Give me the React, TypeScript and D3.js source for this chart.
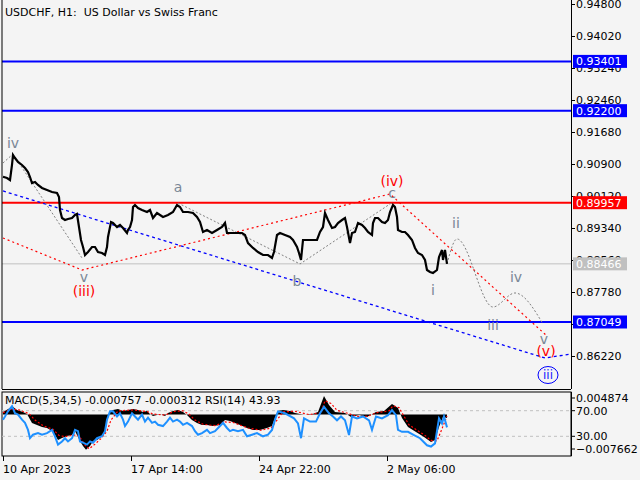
import { useEffect, useRef } from "react";
import * as d3 from "d3";

// H1 bar index (0 = 10 Apr 06:00) and close
const barIdx = [0, 4, 7, 9, 10, 12, 15, 19, 22, 25, 27, 29, 32, 35, 39, 44, 49, 54, 56, 57, 59, 62, 65, 69, 72, 74, 76, 78, 80, 82, 85, 89, 92, 95, 99, 102, 104, 105, 108, 110, 114, 117, 120, 124, 125, 127, 129, 130, 132, 135, 139, 144, 147, 150, 154, 160, 165, 170, 174, 177, 180, 185, 190, 194, 197, 200, 204, 209, 214, 219, 222, 224, 229, 234, 239, 242, 245, 250, 255, 260, 265, 269, 271, 274, 277, 282, 287, 290, 294, 296, 298, 300, 304, 309, 314, 317, 320, 322, 325, 329, 332, 335, 339, 342, 344, 347, 349, 352, 355, 359, 362, 365, 369, 370, 372, 375, 379, 382, 385, 387, 390, 392, 394, 395, 399, 402, 405, 409, 412, 415, 419, 422, 424, 427, 430, 434, 436, 439, 440, 442, 444];
const closes = [0.9059, 0.90559, 0.9051, 0.90876, 0.91119, 0.91046, 0.90949, 0.90876, 0.90802, 0.90705, 0.90583, 0.90437, 0.90461, 0.90388, 0.90315, 0.90266, 0.90218, 0.90193, 0.90096, 0.89779, 0.89584, 0.89535, 0.89559, 0.89584, 0.89657, 0.89681, 0.89364, 0.89048, 0.88877, 0.88682, 0.88755, 0.88877, 0.88877, 0.88755, 0.88731, 0.88682, 0.88877, 0.89121, 0.89486, 0.89462, 0.89364, 0.89413, 0.8934, 0.89218, 0.89291, 0.89364, 0.89535, 0.89852, 0.89901, 0.89828, 0.89779, 0.8973, 0.89779, 0.89584, 0.89706, 0.89608, 0.89657, 0.8973, 0.89901, 0.89852, 0.8973, 0.8973, 0.89706, 0.89608, 0.89486, 0.89243, 0.89291, 0.89218, 0.89291, 0.89364, 0.89462, 0.89218, 0.89218, 0.89218, 0.89218, 0.89169, 0.88974, 0.88853, 0.88755, 0.88682, 0.88682, 0.88609, 0.88755, 0.89169, 0.89218, 0.89169, 0.89121, 0.89048, 0.88877, 0.88731, 0.8856, 0.89048, 0.89048, 0.89048, 0.89048, 0.89243, 0.89364, 0.89706, 0.89535, 0.8934, 0.89364, 0.89462, 0.89535, 0.89584, 0.89364, 0.88974, 0.89218, 0.89243, 0.89462, 0.89413, 0.8934, 0.89243, 0.89169, 0.89462, 0.89584, 0.89584, 0.89486, 0.89462, 0.89535, 0.8973, 0.89901, 0.89852, 0.89608, 0.89291, 0.89243, 0.89243, 0.89169, 0.89048, 0.88853, 0.88731, 0.88682, 0.8856, 0.88316, 0.88268, 0.88243, 0.88316, 0.88633, 0.88804, 0.8856, 0.88804, 0.88466];

const priceTicks = [0.948, 0.9402, 0.9324, 0.9246, 0.9168, 0.909, 0.9012, 0.8934, 0.8856, 0.8778, 0.87, 0.8622];
const blueLevels = [0.93401, 0.922, 0.87049];
const redLevels = [0.89957];
const lastPrice = 0.88466;

const timeTicks = [0, 128, 256, 384];
const timeLabels = ["10 Apr 2023", "17 Apr 14:00", "24 Apr 22:00", "2 May 06:00"];

// wave markup
const minorPaths = [
  [[0, 0.90924], [10, 0.91144], [79, 0.88609]],
  [[175, 0.89949], [297, 0.88463], [390, 0.89974]],
];
const minorProjection = [[444, 0.88466], [454, 0.89072], [490, 0.87414], [512, 0.87756], [540, 0.87]];
const intermediatePath = [[0, 0.89096], [79, 0.88316], [387, 0.90169], [544, 0.86708]];
const primaryPath = [[0, 0.90242], [542, 0.86171], [568, 0.86269]];

const minorLabels: [string, number, number][] = [
  ["iv", 10, 0.9129], ["v", 81, 0.88024], ["a", 175, 0.90218], ["b", 294, 0.87926],
  ["c", 389, 0.90071], ["i", 430, 0.87707], ["ii", 453, 0.89348], ["iii", 490, 0.86854],
  ["iv", 513, 0.88024], ["v", 541, 0.86513],
];
const intermediateLabels: [string, number, number][] = [
  ["(iii)", 81, 0.87683], ["(iv)", 389, 0.90364], ["(v)", 543, 0.8622],
];
const primaryLabels: [string, number, number][] = [["iii", 545, 0.85659]];

// MACD(5,34,5) main
const macdIdx = [0, 7, 9, 14, 20, 24, 29, 34, 39, 44, 49, 52, 55, 59, 64, 69, 72, 77, 80, 83, 87, 90, 94, 97, 102, 104, 107, 110, 115, 120, 125, 130, 135, 140, 144, 147, 150, 154, 157, 162, 165, 170, 175, 180, 184, 189, 194, 199, 204, 210, 217, 222, 227, 232, 237, 244, 250, 257, 264, 269, 272, 275, 280, 287, 292, 297, 307, 315, 321, 326, 332, 342, 348, 356, 364, 373, 381, 389, 395, 399, 405, 413, 421, 428, 432, 436, 440, 444];
const macdVals = [0.00056, 0.00143, 0.00186, 0.00099, 0.00056, 0.00013, -0.00182, -0.00225, -0.00268, -0.0029, -0.00354, -0.00441, -0.00549, -0.00506, -0.00463, -0.00441, -0.00354, -0.00571, -0.00679, -0.0076, -0.00679, -0.00571, -0.00549, -0.00506, -0.00398, -0.00138, 0.00056, 0.00099, 0.00121, 0.00078, 0.00099, 0.00121, 0.00099, 0.00056, 0.00078, 0.00013, -0.0003, -0.00009, 0.00013, -0.0003, 0.00035, 0.00078, 0.00099, 0.00056, -0.00009, -0.00117, -0.00182, -0.00225, -0.00225, -0.00246, -0.00225, -0.00117, -0.00138, -0.00182, -0.00225, -0.0029, -0.00333, -0.00333, -0.0029, -0.00246, -0.00073, 0.00078, 0.00099, 0.00078, 0.00035, 0.00013, -0.00009, 0.00056, 0.004, 0.00207, 0.00056, 0.00035, -0.00052, -0.00009, -0.00052, 0.00056, 0.00078, 0.00229, 0.00143, -0.00073, -0.00268, -0.00376, -0.00484, -0.00592, -0.00549, -0.00268, -0.00052, -0.000757];
// signal line
const signalIdx = [0, 8, 16, 26, 32, 40, 50, 56, 62, 70, 76, 82, 86, 92, 98, 104, 108, 115, 130, 145, 150, 162, 172, 180, 186, 192, 200, 212, 222, 230, 245, 258, 268, 274, 280, 292, 306, 318, 322, 328, 334, 346, 354, 364, 374, 386, 390, 396, 400, 406, 414, 422, 428, 434, 438, 444];
const signalVals = [0.0004, 0.0012, 0.001, 0.0002, -0.0012, -0.0024, -0.0032, -0.0045, -0.0048, -0.0044, -0.0046, -0.0066, -0.0074, -0.0064, -0.0052, -0.0036, -0.0012, 0.0008, 0.001, 0.0006, 0.0001, -0.0001, 0.0007, 0.0008, 0.0001, -0.0012, -0.0021, -0.0024, -0.0016, -0.0017, -0.0029, -0.0034, -0.0029, -0.0012, 0.0006, 0.0007, 0.0, 0.0004, 0.003, 0.0024, 0.0009, 0.0002, -0.0004, -0.0004, 0.0004, 0.0008, 0.0019, 0.0015, 0.0, -0.0022, -0.0034, -0.0045, -0.0056, -0.0057, -0.0036, -0.000312];
// RSI(14)
const rsiIdx = [0, 2, 5, 9, 12, 15, 19, 22, 25, 27, 30, 35, 39, 44, 49, 52, 55, 59, 62, 65, 69, 72, 75, 77, 80, 84, 87, 90, 94, 99, 102, 104, 107, 110, 114, 117, 120, 122, 125, 129, 132, 135, 139, 142, 145, 149, 152, 155, 160, 164, 167, 170, 174, 177, 180, 184, 189, 192, 195, 199, 204, 207, 212, 217, 220, 224, 227, 230, 235, 240, 244, 249, 254, 260, 265, 269, 272, 275, 282, 291, 295, 298, 301, 307, 313, 317, 321, 326, 330, 334, 338, 342, 346, 349, 354, 360, 366, 369, 373, 379, 385, 389, 393, 395, 399, 405, 411, 417, 424, 428, 432, 436, 439, 441, 444];
const rsiVals = [56, 61, 69, 77, 66, 64, 56, 51, 40, 27, 32.5, 35, 32.5, 35, 40, 30, 17, 22, 27, 22, 27, 40, 38, 22, 20, 17, 22, 20, 27, 30, 38, 56, 69, 69, 61, 66, 56, 46, 53, 66, 61, 56, 64, 53, 59, 51, 53, 48, 46, 53, 59, 53, 56, 53, 48, 51, 46, 38, 32.5, 35, 40, 35, 38, 46, 51, 43, 38, 40, 38, 40, 30, 32.5, 35, 30, 32.5, 40, 56, 69, 66, 58, 50, 27, 58, 53, 53, 66, 76, 66, 61, 55, 61, 55, 32, 61, 58, 61, 55, 40, 61, 58, 63, 71, 63, 40, 37, 37, 32, 27, 16, 14, 19, 58, 50, 61, 43.93];
const rsiLevels = [70, 30];
const macdMax = 0.004874;
const macdMin = -0.007662;

const FONT = "DejaVu Sans, sans-serif";

export default function App() {
  const ref = useRef<SVGSVGElement>(null);

  useEffect(() => {
    const svg = d3.select(ref.current);
    svg.selectAll("*").remove();

    const plotL = 2, plotR = 571;
    const mainBottom = 389;
    const subTop = 392, subBottom = 456;

    const x = d3.scaleLinear().domain([0, 568]).range([3, 571]);
    const y = d3.scaleLinear().domain([0.8622, 0.948]).range([356, 4]);
    const mY = d3.scaleLinear().domain([macdMin, macdMax]).range([450, 392]);
    const rY = d3.scaleLinear().domain([0, 100]).range([455.5, 391.5]);

    svg.append("rect").attr("width", 640).attr("height", 480).attr("fill", "#f4f4f4");

    const clip = svg.append("defs").append("clipPath").attr("id", "mainclip");
    clip.append("rect").attr("x", plotL).attr("y", 0).attr("width", plotR - plotL).attr("height", mainBottom);
    const main = svg.append("g").attr("clip-path", "url(#mainclip)");

    // horizontal levels
    main.append("line")
      .attr("x1", plotL).attr("x2", plotR)
      .attr("y1", y(lastPrice)).attr("y2", y(lastPrice))
      .attr("stroke", "#c0c0c0").attr("stroke-width", 1);
    main.selectAll(".blvl").data(blueLevels).enter().append("line")
      .attr("x1", plotL).attr("x2", plotR)
      .attr("y1", (d) => y(d)).attr("y2", (d) => y(d))
      .attr("stroke", "#0000ff").attr("stroke-width", 2);
    main.selectAll(".rlvl").data(redLevels).enter().append("line")
      .attr("x1", plotL).attr("x2", plotR)
      .attr("y1", (d) => y(d)).attr("y2", (d) => y(d))
      .attr("stroke", "#ff0000").attr("stroke-width", 2);

    const line = d3.line<number[]>().x((d) => x(d[0])).y((d) => y(d[1]));

    // wave markup lines
    main.append("path").attr("d", line(primaryPath))
      .attr("fill", "none").attr("stroke", "#0000ff").attr("stroke-width", 1.3).attr("stroke-dasharray", "3,3");
    main.append("path").attr("d", line(intermediatePath))
      .attr("fill", "none").attr("stroke", "#ff0000").attr("stroke-width", 1.2).attr("stroke-dasharray", "2,3");
    minorPaths.forEach((p) => {
      main.append("path").attr("d", line(p))
        .attr("fill", "none").attr("stroke", "#808080").attr("stroke-width", 1).attr("stroke-dasharray", "2,2");
    });
    main.append("path").attr("d", line.curve(d3.curveMonotoneX)(minorProjection))
      .attr("fill", "none").attr("stroke", "#808080").attr("stroke-width", 1).attr("stroke-dasharray", "2,2");
    line.curve(d3.curveLinear);

    // price
    const pts = barIdx.map((b, i) => [b, closes[i]]);
    main.append("path").attr("d", line(pts))
      .attr("fill", "none").attr("stroke", "#000").attr("stroke-width", 2.2).attr("stroke-linejoin", "miter");

    // labels
    const lbl = (data: [string, number, number][], color: string) => {
      main.selectAll(null).data(data).enter().append("text")
        .attr("x", (d) => x(d[1])).attr("y", (d) => y(d[2]))
        .attr("text-anchor", "middle").attr("font-family", FONT).attr("font-size", 14)
        .attr("fill", color).text((d) => d[0]);
    };
    lbl(minorLabels, "#7a8796");
    lbl(intermediateLabels, "#ff0000");
    primaryLabels.forEach((d) => {
      main.append("ellipse").attr("cx", x(d[1])).attr("cy", y(d[2]) - 4)
        .attr("rx", 10).attr("ry", 8.5).attr("fill", "none").attr("stroke", "#0000ff").attr("stroke-width", 1);
      main.append("text").attr("x", x(d[1])).attr("y", y(d[2]))
        .attr("text-anchor", "middle").attr("font-family", FONT).attr("font-size", 12)
        .attr("fill", "#2020ff").text(d[0]);
    });

    // title
    svg.append("text").attr("x", 5).attr("y", 16).attr("font-family", FONT).attr("font-size", 11)
      .style("white-space", "pre").attr("fill", "#000").text("USDCHF, H1:  US Dollar vs Swiss Franc");

    // frames
    svg.append("line").attr("x1", plotL).attr("x2", plotL).attr("y1", 0).attr("y2", mainBottom).attr("stroke", "#000");
    svg.append("line").attr("x1", plotL).attr("x2", plotR).attr("y1", mainBottom + 0.5).attr("y2", mainBottom + 0.5).attr("stroke", "#000");
    svg.append("rect").attr("x", plotL).attr("y", subTop).attr("width", plotR - plotL).attr("height", subBottom - subTop)
      .attr("fill", "none").attr("stroke", "#000");

    // price axis
    const pAxis = svg.append("g").attr("transform", `translate(${plotR},0)`)
      .call(d3.axisRight(y).tickValues(priceTicks).tickFormat(d3.format(".5f")).tickSize(4).tickPadding(1));
    pAxis.select(".domain").attr("d", `M0.5,0V${mainBottom}`).attr("stroke", "#000");
    pAxis.selectAll("text").attr("font-family", FONT).attr("font-size", 11).attr("fill", "#000");

    // price boxes
    const boxes = [
      ...blueLevels.map((v) => ({ v, c: "#0000ff" })),
      ...redLevels.map((v) => ({ v, c: "#ff0000" })),
      { v: lastPrice, c: "#c0c0c0" },
    ];
    const bx = svg.append("g");
    boxes.forEach((b) => {
      bx.append("rect").attr("x", 573).attr("y", y(b.v) - 6.5).attr("width", 54).attr("height", 13).attr("fill", b.c);
      bx.append("text").attr("x", 576).attr("y", y(b.v) + 4).attr("font-family", FONT).attr("font-size", 11)
        .attr("fill", "#fff").text(d3.format(".5f")(b.v));
    });

    // sub window: MACD + RSI
    const sub = svg.append("g");
    sub.selectAll(null).data(rsiLevels).enter().append("line")
      .attr("x1", plotL).attr("x2", plotR).attr("y1", (d) => rY(d)).attr("y2", (d) => rY(d))
      .attr("stroke", "#c0c0c0").attr("stroke-dasharray", "3,3");
    const mPts = macdIdx.map((b, i) => [b, macdVals[i]]);
    sub.append("path")
      .attr("d", d3.area<number[]>().x((d) => x(d[0])).y0(mY(0)).y1((d) => mY(d[1]))(mPts))
      .attr("fill", "#000");
    const sPts = signalIdx.map((b, i) => [b, signalVals[i]]);
    sub.append("path")
      .attr("d", d3.line<number[]>().x((d) => x(d[0])).y((d) => mY(d[1]))(sPts))
      .attr("fill", "none").attr("stroke", "#ff0000").attr("stroke-width", 1.2).attr("stroke-dasharray", "2,2");
    const rPts = rsiIdx.map((b, i) => [b, rsiVals[i]]);
    sub.append("path")
      .attr("d", d3.line<number[]>().x((d) => x(d[0])).y((d) => rY(d[1]))(rPts))
      .attr("fill", "none").attr("stroke", "#1e90ff").attr("stroke-width", 2);
    sub.append("text").attr("x", 5).attr("y", 404).attr("font-family", FONT).attr("font-size", 11)
      .attr("fill", "#000").text("MACD(5,34,5) -0.000757 -0.000312 RSI(14) 43.93");

    // sub axis
    const sAxis = svg.append("g").attr("transform", `translate(${plotR},0)`);
    sAxis.append("line").attr("x1", 0.5).attr("x2", 0.5).attr("y1", subTop).attr("y2", subBottom).attr("stroke", "#000");
    const subTicks = [
      { y: 398, t: d3.format(".6f")(macdMax) },
      { y: rY(70), t: "70.00" },
      { y: rY(30), t: "30.00" },
      { y: 449, t: d3.format(".6f")(macdMin) },
    ];
    subTicks.forEach((s) => {
      sAxis.append("line").attr("x1", 0).attr("x2", 4).attr("y1", s.y).attr("y2", s.y).attr("stroke", "#000");
      sAxis.append("text").attr("x", 5).attr("y", s.y + 4).attr("font-family", FONT).attr("font-size", 11)
        .attr("fill", "#000").text(s.t);
    });

    // time axis
    const tAxis = svg.append("g");
    timeTicks.forEach((t, i) => {
      tAxis.append("line").attr("x1", x(t) + 0.5).attr("x2", x(t) + 0.5).attr("y1", subBottom).attr("y2", subBottom + 5)
        .attr("stroke", "#000");
      tAxis.append("text").attr("x", x(t)).attr("y", 473).attr("font-family", FONT).attr("font-size", 11)
        .attr("fill", "#000").text(timeLabels[i]);
    });
  }, []);

  return (
    <svg ref={ref} width={640} height={480}
      style={{ position: "absolute", left: 0, top: 0, display: "block" }} />
  );
}
